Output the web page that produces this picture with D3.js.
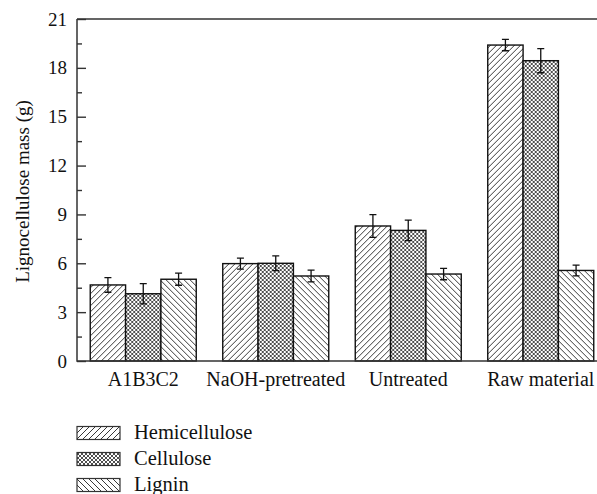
<!DOCTYPE html>
<html><head><meta charset="utf-8">
<script src="https://cdn.jsdelivr.net/npm/d3@7"></script>
<style>body{margin:0;background:#fff}svg{display:block}</style>
</head><body>
<svg id="c" width="597" height="494"></svg>
<script>
const categories = ["A1B3C2", "NaOH-pretreated", "Untreated", "Raw material"];
const seriesNames = ["Hemicellulose", "Cellulose", "Lignin"];
const hemicellulose = [4.67, 5.98, 8.29, 19.40];
const hemicelluloseErr = [0.45, 0.34, 0.70, 0.35];
const cellulose = [4.13, 6.00, 8.02, 18.44];
const celluloseErr = [0.62, 0.45, 0.63, 0.74];
const lignin = [5.02, 5.22, 5.34, 5.56];
const ligninErr = [0.37, 0.36, 0.35, 0.33];
const yTicks = [0, 3, 6, 9, 12, 15, 18, 21];
const yMinorTicks = [1.5, 4.5, 7.5, 10.5, 13.5, 16.5, 19.5];
const yTitle = "Lignocellulose mass (g)";

(function () {
const seriesVals = [hemicellulose, cellulose, lignin];
const seriesErrs = [hemicelluloseErr, celluloseErr, ligninErr];
const patternIds = ["p-hemi", "p-cell", "p-lig"];

const FONT = "'Liberation Serif', 'Times New Roman', serif";
const svg = d3.select("#c");
const defs = svg.append("defs");

function mkPattern(id, size, d, sw) {
  const p = defs.append("pattern").attr("id", id).attr("patternUnits", "userSpaceOnUse")
    .attr("width", size).attr("height", size);
  p.append("rect").attr("width", size).attr("height", size).attr("fill", "#fff");
  p.append("path").attr("d", d).attr("stroke", "#222").attr("stroke-width", sw).attr("fill", "none");
}
{
  const s = 6;
  mkPattern("p-hemi", s, `M0,${s} L${s},0 M${-s/2},${s/2} L${s/2},${-s/2} M${s/2},${s*1.5} L${s*1.5},${s/2}`, 0.9);
  mkPattern("p-lig", s, `M0,0 L${s},${s} M${-s/2},${s/2} L${s/2},${s*1.5} M${s/2},${-s/2} L${s*1.5},${s/2}`, 0.9);
  const c = 4;
  mkPattern("p-cell", c, `M0,${c} L${c},0 M${-c/2},${c/2} L${c/2},${-c/2} M${c/2},${c*1.5} L${c*1.5},${c/2} M0,0 L${c},${c} M${-c/2},${c/2} L${c/2},${c*1.5} M${c/2},${-c/2} L${c*1.5},${c/2}`, 0.8);
}

const pLeft = 77, pRight = 607, pTop = 19, pBottom = 361;
const x = d3.scaleBand().domain(categories).range([pLeft, pRight]).paddingInner(0.2).paddingOuter(0.1);
const xs = d3.scaleBand().domain(seriesNames).range([0, x.bandwidth()]);
const y = d3.scaleLinear().domain([0, 21]).range([pBottom, pTop]);

const groups = svg.append("g").selectAll("g").data(categories).join("g")
  .attr("transform", d => `translate(${x(d)},0)`);
seriesNames.forEach((s, si) => {
  groups.append("rect")
    .attr("x", xs(s))
    .attr("width", xs.bandwidth())
    .attr("y", (d, i) => y(seriesVals[si][i]))
    .attr("height", (d, i) => y(0) - y(seriesVals[si][i]))
    .attr("fill", `url(#${patternIds[si]})`)
    .attr("stroke", "#111").attr("stroke-width", 1.4);
});
seriesNames.forEach((s, si) => {
  const cx = xs(s) + xs.bandwidth() / 2;
  groups.each(function (d, i) {
    const g = d3.select(this);
    const v = seriesVals[si][i], e = seriesErrs[si][i];
    const path = `M${cx},${y(v + e)} L${cx},${y(v - e)} M${cx - 3.5},${y(v + e)} L${cx + 3.5},${y(v + e)} M${cx - 3.5},${y(v - e)} L${cx + 3.5},${y(v - e)}`;
    g.append("path").attr("d", path).attr("stroke", "#111").attr("stroke-width", 1.3).attr("fill", "none");
  });
});

const ya = svg.append("g").attr("transform", `translate(${pLeft},0)`)
  .call(d3.axisLeft(y).tickValues(yTicks).tickSizeInner(-9).tickSizeOuter(0).tickPadding(10));
ya.select(".domain").remove();
ya.selectAll("line").attr("stroke", "#333").attr("stroke-width", 1.4);
ya.selectAll("text").attr("font-family", FONT).attr("font-size", 19).attr("fill", "#111");
const ym = svg.append("g").attr("transform", `translate(${pLeft},0)`)
  .call(d3.axisLeft(y).tickValues(yMinorTicks).tickSizeInner(-5).tickSizeOuter(0).tickFormat(""));
ym.select(".domain").remove();
ym.selectAll("line").attr("stroke", "#333").attr("stroke-width", 1.4);

const xa = svg.append("g").attr("transform", `translate(0,${pBottom})`)
  .call(d3.axisBottom(x).tickSize(0));
xa.select(".domain").remove();
xa.selectAll("text").attr("y", 24.5).attr("dy", 0)
  .attr("font-family", FONT).attr("font-size", 20).attr("fill", "#111");

svg.append("path").attr("d", `M${pLeft},${pTop} L${pLeft},${pBottom} L597,${pBottom} M${pLeft},${pTop} L597,${pTop}`)
  .attr("stroke", "#333").attr("stroke-width", 1.5).attr("fill", "none");

svg.append("text").attr("transform", `translate(29,${(95 + 288) / 2}) rotate(-90)`)
  .attr("text-anchor", "middle").attr("font-family", FONT).attr("font-size", 19).attr("fill", "#111")
  .text(yTitle);

const lg = svg.append("g");
seriesNames.forEach((s, i) => {
  const cy = 433 + i * 26;
  lg.append("rect").attr("x", 77).attr("y", cy - 6.5).attr("width", 43).attr("height", 13)
    .attr("fill", `url(#${patternIds[i]})`).attr("stroke", "#333").attr("stroke-width", 1.2);
  lg.append("text").attr("x", 134).attr("y", cy + 6).attr("font-family", FONT).attr("font-size", 20.5)
    .attr("fill", "#111").text(s);
});
})();
</script>
</body></html>
